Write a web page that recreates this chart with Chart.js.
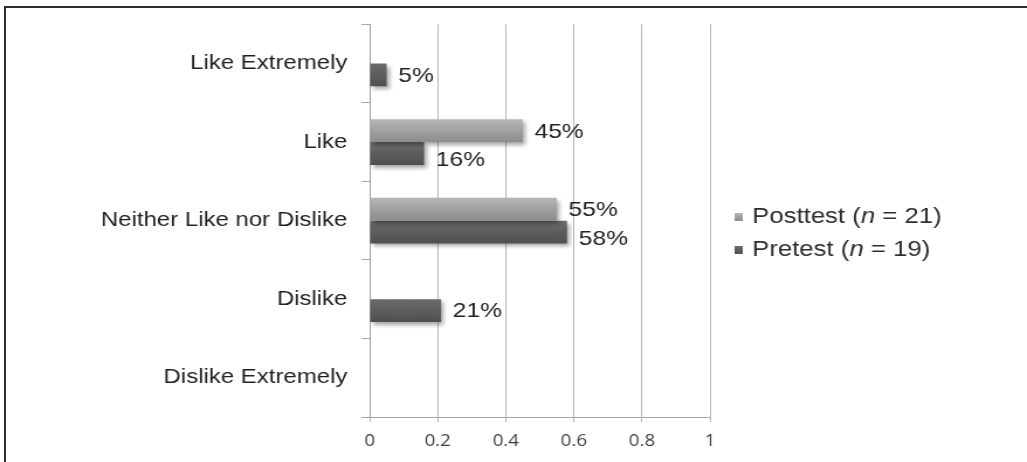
<!DOCTYPE html>
<html>
<head>
<meta charset="utf-8">
<script src="https://cdn.jsdelivr.net/npm/chart.js@4.4.1/dist/chart.umd.min.js"></script>
<style>
  html, body { margin: 0; padding: 0; background: #fff; }
  #wrap { position: relative; width: 1027px; height: 462px; overflow: hidden; }
  #frame {
    position: absolute; left: 4px; top: 6px; right: -10px; bottom: -10px;
    border-left: 2px solid #2e2e2e; border-top: 2px solid #2e2e2e;
  }
  #chart { position: absolute; left: 0; top: 0; }
</style>
</head>
<body>
<div id="wrap">
  <div id="frame"></div>
  <canvas id="chart" width="878" height="462" style="width:1027px;height:462px"></canvas>
</div>
<script>
// Liking ratings, share of respondents per answer
const categories = ['Like Extremely', 'Like', 'Neither Like nor Dislike', 'Dislike', 'Dislike Extremely'];
const posttest = [0, 0.45, 0.55, 0, 0];
const pretest = [0.05, 0.16, 0.58, 0.21, 0];
const seriesNames = ['Posttest', 'Pretest'];
const sampleSizes = [21, 19];
const xMin = 0, xMax = 1, xStep = 0.2;

const FONT = "'Liberation Sans', Arial, sans-serif";
const shades = [
    { top: '#b6b6b6', bottom: '#8c8c8c' },
    { top: '#6c6c6c', bottom: '#4f4f4f' }
];

// gradient fill, drop shadow, value labels and the legend with italic n
const barDecor = {
    id: 'barDecor',
    beforeDatasetsDraw(chart) {
        const ctx = chart.ctx;
        chart.data.datasets.forEach((ds, i) => {
            chart.getDatasetMeta(i).data.forEach(el => {
                const h = el.height;
                const g = ctx.createLinearGradient(0, el.y - h / 2, 0, el.y + h / 2);
                g.addColorStop(0, shades[i].top);
                g.addColorStop(1, shades[i].bottom);
                el.options.backgroundColor = g;
            });
        });
        ctx.save();
        ctx.shadowColor = 'rgba(0,0,0,0.35)';
        ctx.shadowBlur = 4;
        ctx.shadowOffsetX = 2;
        ctx.shadowOffsetY = 3;
    },
    afterDatasetsDraw(chart) {
        const ctx = chart.ctx;
        ctx.restore();
        ctx.save();
        ctx.font = '21px ' + FONT;
        ctx.fillStyle = '#222';
        ctx.textAlign = 'left';
        ctx.textBaseline = 'middle';
        chart.data.datasets.forEach((ds, i) => {
            chart.getDatasetMeta(i).data.forEach((el, j) => {
                const v = ds.data[j];
                if (!v) return;
                // nudge the lower label down when both bars of a pair are shown
                const both = i === 1 && chart.data.datasets[0].data[j] > 0;
                ctx.fillText(Math.round(v * 100) + '%', el.x + 10, el.y + (both ? 7 : 1));
            });
        });
        ctx.restore();
    },
    afterDraw(chart) {
        const ctx = chart.ctx;
        const x0 = chart.chartArea.right + 21;
        const rows = [217, 250];
        ctx.save();
        ctx.textBaseline = 'middle';
        seriesNames.forEach((name, i) => {
            const y = rows[i];
            const g = ctx.createLinearGradient(0, y - 4, 0, y + 4);
            g.addColorStop(0, shades[i].top);
            g.addColorStop(1, shades[i].bottom);
            ctx.fillStyle = g;
            ctx.fillRect(x0, y - 4, 7, 8);
            ctx.fillStyle = '#2e2e2e';
            let x = x0 + 15;
            const parts = [[name + ' (', ''], ['n', 'italic '], [' = ' + sampleSizes[i] + ')', '']];
            parts.forEach(([t, style]) => {
                ctx.font = style + '22px ' + FONT;
                ctx.fillText(t, x, y);
                x += ctx.measureText(t).width;
            });
        });
        ctx.restore();
    }
};

new Chart(document.getElementById('chart'), {
    type: 'bar',
    data: {
        labels: categories,
        datasets: [
            { label: seriesNames[0], data: posttest, backgroundColor: () => shades[0].bottom },
            { label: seriesNames[1], data: pretest, backgroundColor: () => shades[1].bottom }
        ]
    },
    options: {
        indexAxis: 'y',
        responsive: false,
        animation: false,
        devicePixelRatio: 1,
        layout: { padding: { top: 24, right: 271, left: 0, bottom: 0 } },
        datasets: { bar: { categoryPercentage: 0.58, barPercentage: 1, borderWidth: 0 } },
        plugins: { legend: { display: false }, tooltip: { enabled: false } },
        scales: {
            x: {
                min: xMin,
                max: xMax,
                ticks: {
                    stepSize: xStep,
                    color: '#404040',
                    font: { family: "'Open Sans', sans-serif", size: 16 },
                    padding: 10,
                    callback: v => String(Number(v.toFixed(2)))
                },
                grid: { color: '#b4b4b4', tickLength: 5, lineWidth: 1 },
                border: { color: '#a6a6a6' },
                afterFit(scale) { scale.height = 45; }
            },
            y: {
                ticks: { color: '#1f1f1f', font: { family: FONT, size: 20.5 }, padding: 12 },
                grid: { drawOnChartArea: false, color: '#a6a6a6', tickLength: 7 },
                border: { color: '#a6a6a6' },
                afterFit(scale) { scale.width = 316; }
            }
        }
    },
    plugins: [barDecor]
});
</script>
</body>
</html>
